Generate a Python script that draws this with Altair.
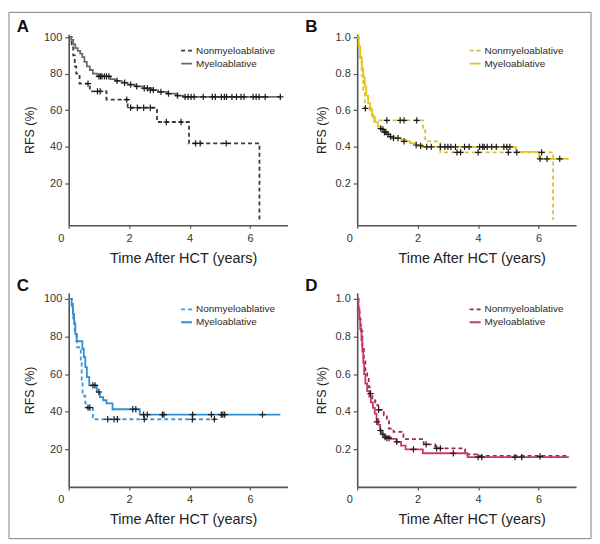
import altair as alt
import pandas as pd

NON = "Nonmyeloablative"
MYE = "Myeloablative"

# ---------------- Panel A (percent) ----------------
a_mye_t = [0, 0.08, 0.15, 0.22, 0.3, 0.38, 0.45, 0.52, 0.6, 0.7, 0.8, 0.95, 1.38, 1.55, 1.75, 1.95, 2.2, 2.45, 2.75, 2.95, 3.25, 3.55, 3.8, 7.0]
a_mye_v = [100, 98.5, 96, 94, 92.5, 91, 89, 86.5, 84, 82, 80, 78.5, 77, 76, 75, 74, 73, 72, 71, 70, 69, 68, 67.3, 67.3]
a_non_t = [0, 0.1, 0.15, 0.2, 0.25, 0.36, 0.7, 1.25, 1.95, 2.92, 3.98, 6.31]
a_non_v = [100, 96, 90, 84, 80, 74.5, 70.3, 65.8, 61.3, 53.5, 41.8, 0]
a_cens_t = [1.0, 1.05, 1.1, 1.18, 1.25, 1.33, 1.6, 1.85, 2.05, 2.25, 2.5, 2.6, 2.7, 2.8, 3.05, 3.3, 3.6, 3.85, 3.95,
            4.05, 4.15, 4.45, 4.75, 4.85, 5.05, 5.15, 5.22, 5.4, 5.55, 5.7, 5.8, 6.1, 6.2, 6.3, 6.5, 7.0,
            0.64, 0.95, 1.04, 1.92, 2.05, 2.27, 2.48, 2.7, 3.23, 3.72, 4.2, 4.35, 5.21]
a_cens_v = [78.5, 78.5, 78.5, 78.5, 78.5, 78.5, 76, 75, 74, 73, 72, 72, 71, 71, 70, 69, 68, 67.3, 67.3,
            67.3, 67.3, 67.3, 67.3, 67.3, 67.3, 67.3, 67.3, 67.3, 67.3, 67.3, 67.3, 67.3, 67.3, 67.3, 67.3, 67.3,
            74.5, 70.3, 70.3, 65.8, 61.3, 61.3, 61.3, 61.3, 53.5, 53.5, 41.8, 41.8, 41.8]

# ---------------- Panel B (fraction) ----------------
b_mye_t = [0, 0.05, 0.1, 0.15, 0.2, 0.25, 0.3, 0.36, 0.42, 0.5, 0.58, 0.68, 0.78, 0.9, 1.0, 1.1, 1.25, 1.45, 1.6, 1.75, 1.95, 2.15, 5.25, 6.02, 7.0]
b_mye_v = [1.0, 0.95, 0.89, 0.83, 0.78, 0.73, 0.68, 0.64, 0.60, 0.565, 0.535, 0.51, 0.495, 0.48, 0.468, 0.456, 0.448, 0.44, 0.43, 0.42, 0.41, 0.40, 0.372, 0.334, 0.334]
b_non_t = [0, 0.05, 0.1, 0.15, 0.2, 0.25, 0.48, 0.56, 2.18, 2.25, 2.75, 6.48]
b_non_v = [1.0, 0.94, 0.87, 0.79, 0.70, 0.61, 0.575, 0.545, 0.50, 0.43, 0.37, 0]
b_cens_t = [0.78, 0.85, 0.9, 0.95, 1.02, 1.1, 1.2, 1.35, 1.55, 1.95, 2.1, 2.3, 2.45, 2.75, 2.9, 3.0, 3.1, 3.25, 3.55, 3.7,
            4.05, 4.15, 4.2, 4.3, 4.45, 4.6, 4.85, 4.95, 5.05, 6.05, 6.28, 6.7,
            0.27, 0.98, 1.42, 1.55, 1.97, 3.3, 3.42, 4.0, 5.0, 5.28, 6.1]
b_cens_v = [0.50, 0.495, 0.48, 0.48, 0.468, 0.456, 0.448, 0.448, 0.43, 0.41, 0.405, 0.40, 0.40, 0.40, 0.40, 0.40, 0.40, 0.40, 0.40, 0.40,
            0.40, 0.40, 0.40, 0.40, 0.40, 0.40, 0.40, 0.40, 0.40, 0.334, 0.334, 0.334,
            0.61, 0.545, 0.545, 0.545, 0.545, 0.37, 0.37, 0.37, 0.37, 0.37, 0.37]

# ---------------- Panel C (percent) ----------------
c_mye_t = [0, 0.1, 0.14, 0.18, 0.22, 0.27, 0.45, 0.5, 0.55, 0.6, 0.68, 0.93, 1.03, 1.14, 1.25, 1.45, 2.35, 7.0]
c_mye_v = [100, 97.3, 92, 86.7, 81.4, 77.5, 73.5, 69, 63.7, 58.4, 54, 50.5, 47.8, 46.1, 44.4, 41.3, 38.5, 38.5]
c_non_t = [0, 0.1, 0.15, 0.2, 0.25, 0.28, 0.4, 0.43, 0.46, 0.55, 0.6, 0.8, 4.88]
c_non_v = [100, 96, 88.5, 82, 77.5, 74.3, 66, 56, 48.5, 44.5, 42.2, 36, 36]
c_cens_t = [0.8, 0.87, 1.0, 2.12, 2.22, 2.48, 2.6, 3.1, 3.15, 4.1, 4.72, 5.05, 5.1, 5.16, 6.41,
            0.64, 0.7, 1.29, 1.5, 1.61, 2.5, 4.09, 4.82]
c_cens_v = [54, 54, 50.5, 41.3, 41.3, 38.5, 38.5, 38.5, 38.5, 38.5, 38.5, 38.5, 38.5, 38.5, 38.5,
            42.2, 42.2, 36, 36, 36, 36, 36, 36]

# ---------------- Panel D (fraction) ----------------
d_mye_t = [0, 0.04, 0.07, 0.1, 0.14, 0.17, 0.2, 0.23, 0.27, 0.33, 0.4, 0.45, 0.52, 0.58, 0.64, 0.7, 0.76, 0.82, 0.9, 1.1, 1.3, 1.45, 1.6, 2.17, 3.65, 7.0]
d_mye_v = [1.0, 0.95, 0.90, 0.84, 0.78, 0.72, 0.66, 0.60, 0.55, 0.51, 0.48, 0.45, 0.42, 0.39, 0.36, 0.33, 0.30, 0.28, 0.265, 0.255, 0.24, 0.22, 0.20, 0.179, 0.158, 0.158]
d_non_t = [0, 0.04, 0.08, 0.12, 0.17, 0.22, 0.27, 0.33, 0.38, 0.43, 0.5, 0.6, 0.7, 0.88, 0.98, 1.05, 1.2, 1.53, 2.2, 2.58, 3.57, 4.0, 7.0]
d_non_v = [1.0, 0.95, 0.89, 0.83, 0.75, 0.68, 0.62, 0.58, 0.53, 0.49, 0.46, 0.435, 0.41, 0.38, 0.35, 0.31, 0.293, 0.254, 0.226, 0.205, 0.173, 0.165, 0.165]
d_cens_t = [0.44, 0.65, 0.77, 0.85, 0.92, 0.98, 1.05, 1.31, 1.86, 3.18, 4.0, 4.12, 5.22, 5.44, 6.05,
            0.71, 2.28, 2.63, 2.75]
d_cens_v = [0.496, 0.346, 0.30, 0.28, 0.265, 0.26, 0.26, 0.24, 0.20, 0.179, 0.158, 0.158, 0.158, 0.158, 0.162,
            0.41, 0.226, 0.205, 0.205]

x_ticks = [0, 1, 2, 3, 4, 5, 6, 7]
pct_ticks = [20, 40, 60, 80, 100]
frac_ticks = [0.2, 0.4, 0.6, 0.8, 1.0]

FONT = "Liberation Sans"
CROSS = "M-1,0L1,0M0,-1L0,1"


def panel(letter, mye_t, mye_v, non_t, non_v, cens_t, cens_v, c_non, c_mye,
          ydomain, yvals, yfmt, height, border=False):
    lines = pd.DataFrame({
        "t": non_t + mye_t,
        "v": non_v + mye_v,
        "series": [NON] * len(non_t) + [MYE] * len(mye_t),
    })
    cens = pd.DataFrame({"t": cens_t, "v": cens_v})
    xenc = alt.X("t:Q", scale=alt.Scale(domain=[0, 7.24], nice=False, zero=False),
                 axis=alt.Axis(values=x_ticks, format="d", title="Time After HCT (years)",
                               labelOffset={"condition": {"test": "datum.value === 0", "value": -11}, "value": 0},
                               tickSize=3, labelPadding=4, titlePadding=8, titleX=115))
    yenc = alt.Y("v:Q", scale=alt.Scale(domain=ydomain, nice=False, zero=False),
                 axis=alt.Axis(values=yvals, format=yfmt, title="RFS (%)",
                               tickSize=4, labelPadding=3, titlePadding=7))
    leg = alt.Legend(orient="none", legendX=112, legendY=10, title=None, symbolType="stroke",
                     symbolSize=121, symbolStrokeWidth=1.8, labelFontSize=10, labelColor="#2a2a2a",
                     labelFont=FONT, padding=0, rowPadding=1, labelOffset=3)
    line = alt.Chart(lines).mark_line(interpolate="step-after", strokeWidth=1.8).encode(
        x=xenc, y=yenc,
        color=alt.Color("series:N", scale=alt.Scale(domain=[NON, MYE], range=[c_non, c_mye]), legend=leg),
        strokeDash=alt.StrokeDash("series:N", scale=alt.Scale(domain=[NON, MYE], range=[[4, 3], [1, 0]]), legend=leg),
    )
    marks = alt.Chart(cens).mark_point(shape=CROSS, filled=False, size=40, strokeWidth=1.2,
                                       color="#1a1a1a", opacity=1).encode(x="t:Q", y="v:Q")
    lab = alt.Chart(pd.DataFrame({"letter": [letter]})).mark_text(
        fontSize=17, fontWeight="bold", font=FONT, color="#111", align="center", baseline="middle"
    ).encode(text="letter:N", x=alt.value(-46), y=alt.value(-7))
    layers = [line, marks, lab]
    if border:
        frame = alt.Chart(pd.DataFrame({"k": [0]})).mark_rect(
            fillOpacity=0, stroke="#808080", strokeWidth=1
        ).encode(x=alt.value(-60), x2=alt.value(525), y=alt.value(-22), y2=alt.value(507))
        layers.append(frame)
    return alt.layer(*layers).properties(width=220, height=height)


pA = panel("A", a_mye_t, a_mye_v, a_non_t, a_non_v, a_cens_t, a_cens_v, "#3a3a3a", "#6b6b6b",
           [-3.1, 101.6], pct_ticks, "d", 192, border=True)
pB = panel("B", b_mye_t, b_mye_v, b_non_t, b_non_v, b_cens_t, b_cens_v, "#d9c034", "#e4c41c",
           [-0.029, 1.016], frac_ticks, ".1f", 192)
pC = panel("C", c_mye_t, c_mye_v, c_non_t, c_non_v, c_cens_t, c_cens_v, "#3d9be0", "#2e8fd6",
           [0, 103.2], pct_ticks, "d", 195)
pD = panel("D", d_mye_t, d_mye_v, d_non_t, d_non_v, d_cens_t, d_cens_v, "#a02a4a", "#c63a5e",
           [0, 1.032], frac_ticks, ".1f", 195)

chart = alt.concat(pA, pB, pC, pD, columns=2, spacing={"row": 68, "column": 70}, bounds="flush").resolve_scale(
    color="independent", strokeDash="independent"
).properties(
    padding={"left": 0, "top": 2, "right": 0, "bottom": 0}
).configure_view(stroke=None).configure_axis(
    grid=False, domainColor="#555", domainWidth=1.6, tickColor="#555", tickWidth=1.2,
    labelColor="#333", labelFont=FONT, labelFontSize=11,
    titleColor="#222", titleFont=FONT, titleFontSize=14.5, titleFontWeight="normal"
).configure_axisY(titleFontSize=12.5)

chart.save("out.html", embed_options={"renderer": "svg", "actions": False})
